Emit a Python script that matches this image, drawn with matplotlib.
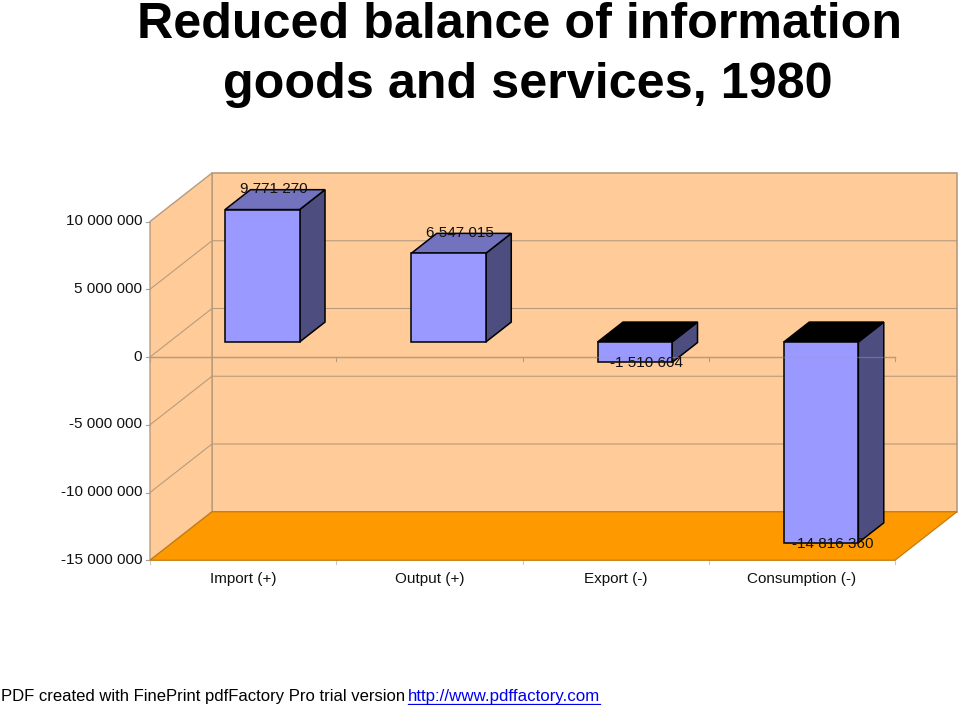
import matplotlib
matplotlib.use("Agg")
import matplotlib.pyplot as plt
from matplotlib.patches import Polygon

# ---------- data ----------
categories = ["Import (+)", "Output (+)", "Export (-)", "Consumption (-)"]
values = [9771270, 6547015, -1510604, -14816360]
value_labels = ["9 771 270", "6 547 015", "-1 510 604", "-14 816 360"]
axis_ticks = [10000000, 5000000, 0, -5000000, -10000000, -15000000]
axis_tick_labels = ["10 000 000", "5 000 000", "0", "-5 000 000", "-10 000 000", "-15 000 000"]
title_lines = ["Reduced balance of information", "goods and services, 1980"]
footer_text = "PDF created with FinePrint pdfFactory Pro trial version"
footer_link = "http://www.pdffactory.com"

# ---------- style ----------
WALL = "#FFCC99"; FLOOR = "#FF9900"; GRID = "#B89B7D"; FLOOR_EDGE = "#C47C10"
FRONT = "#9999FF"; SIDE = "#4D4D80"; TOP = "#7272BE"; TOP_NEG = "#000000"
plt.rcParams["font.family"] = ["Liberation Sans", "DejaVu Sans"]

W, H = 960, 705
fig = plt.figure(figsize=(W / 100, H / 100), dpi=100, facecolor="white")
ax = fig.add_axes([0, 0, 1, 1])
ax.axis("off")

# the category and value scales of the front plane
PX_CAT = 186.25; X0 = 150.0; PX_VAL = 13.55 / 1e6; Y0 = 357.0
ax.set_xlim((0 - X0) / PX_CAT, (W - X0) / PX_CAT)
ax.set_ylim((Y0 - H) / PX_VAL, Y0 / PX_VAL)
DX = 62 / PX_CAT; DV = 48.5 / PX_VAL   # depth shift, in data units


def P(c, v, d=0.0):
    return (c + d * DX, v + d * DV)


vmin, vmax = axis_ticks[-1], axis_ticks[0]
n = len(categories)

# walls and floor
ax.add_patch(Polygon([P(0, vmin, 1), P(n, vmin, 1), P(n, vmax, 1), P(0, vmax, 1)],
                     fc=WALL, ec=GRID, lw=1.2, zorder=1))
ax.add_patch(Polygon([P(0, vmin), P(0, vmin, 1), P(0, vmax, 1), P(0, vmax)],
                     fc=WALL, ec=GRID, lw=1.0, zorder=1))
for t in axis_ticks[1:-1]:
    xs, ys = zip(P(0, t), P(0, t, 1), P(n, t, 1))
    ax.plot(xs, ys, color=GRID, lw=0.8, zorder=2)
ax.add_patch(Polygon([P(0, vmin), P(n, vmin), P(n, vmin, 1), P(0, vmin, 1)],
                     fc=FLOOR, ec=FLOOR_EDGE, lw=0.9, zorder=3))

# ticks
tick_dx = 4 / PX_CAT; tick_dv = 4 / PX_VAL
for t, lab in zip(axis_ticks, axis_tick_labels):
    ax.plot([-tick_dx, 0], [t, t], color="#A0A0A0", lw=0.8, zorder=2)
    ax.annotate(lab, (0, t), xytext=(-5.7, 0.3), textcoords="offset points",
                ha="right", va="center", fontsize=11.0, color="#111111", zorder=9)
for i in range(n + 1):
    ax.plot([i, i], [0, -tick_dv], color=GRID, lw=0.8, zorder=2)
    ax.plot([i, i], [vmin, vmin - tick_dv], color="#C8C8C8", lw=0.8, zorder=2)
ax.plot([0, n], [0, 0], color=GRID, lw=1.0, zorder=2)
for i, lab in enumerate(categories):
    ax.annotate(lab, (i + 0.5, vmin), xytext=(0, -13.2), textcoords="offset points",
                ha="center", va="center", fontsize=11.0, color="#111111", zorder=9)

# bars
d1, d2 = 0.31, 0.72
bw = 0.4
for i, (val, lab) in enumerate(zip(values, value_labels)):
    l, r = i + 0.5 - bw / 2, i + 0.5 + bw / 2
    hi = max(val, 0); lo = min(val, 0)
    z = 5
    ax.add_patch(Polygon([P(r, lo, d1), P(r, lo, d2), P(r, hi, d2), P(r, hi, d1)],
                         fc=SIDE, ec="black", lw=1.1, zorder=z))
    ax.add_patch(Polygon([P(l, hi, d1), P(r, hi, d1), P(r, hi, d2), P(l, hi, d2)],
                         fc=TOP if val > 0 else TOP_NEG, ec="black", lw=1.1, zorder=z))
    ax.add_patch(Polygon([P(l, lo, d1), P(r, lo, d1), P(r, hi, d1), P(l, hi, d1)],
                         fc=FRONT, ec="black", lw=1.1, zorder=z + 1))
    offset = 8.0 if val > 0 else -7.4
    ax.annotate(lab, P(i + 0.5, val, 0.5), xytext=(0, offset), textcoords="offset points",
                ha="center", va="center", fontsize=11.0, color="#111111", zorder=9)
ax.plot([0, n], [0, 0], color=GRID, lw=0.9, alpha=0.45, zorder=7)

# title
for line, cx, base in zip(title_lines, (519.5, 528.0), (38.5, 98.5)):
    ax.text(cx / W, 1 - base / H, line, transform=ax.transAxes, ha="center", va="baseline",
            fontsize=36.2, fontweight="bold", color="black", zorder=9)

# footer
ax.text(1 / W, 1 - 696 / H, footer_text, transform=ax.transAxes,
        ha="left", va="center", fontsize=11.95, color="black", zorder=9)
t2 = ax.text(408 / W, 1 - 696 / H, footer_link, transform=ax.transAxes,
             ha="left", va="center", fontsize=12.2, color="#0000EE", zorder=9)
fig.canvas.draw()
bb = t2.get_window_extent()
fig.add_artist(plt.Line2D([bb.x0 / W, bb.x1 / W], [1 - 703.5 / H] * 2, color="#0000EE", lw=0.9))

fig.savefig("out.png", dpi=100, facecolor="white")
